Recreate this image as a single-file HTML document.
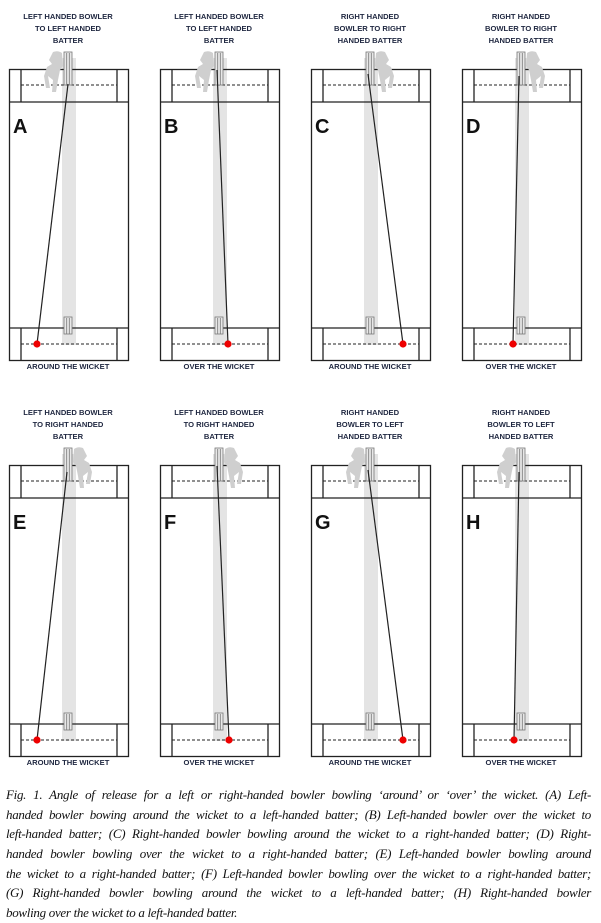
<!DOCTYPE html>
<html><head><meta charset="utf-8"><style>
html,body{margin:0;padding:0;background:#fff;width:601px;height:923px;overflow:hidden}
svg{position:absolute;left:0;top:0}
.t{font-family:"Liberation Sans",sans-serif;font-weight:bold;font-size:7.6px;fill:#1f2740;text-anchor:middle}
.L{font-family:"Liberation Sans",sans-serif;font-weight:bold;font-size:20px;fill:#111}
.cap{position:absolute;left:6px;top:785px;width:585px;font-family:"Liberation Serif",serif;font-style:italic;font-size:13px;line-height:19.7px;color:#111;letter-spacing:-0.3px}
.cap div{text-align:justify;text-align-last:justify;white-space:nowrap;height:19.7px}
.cap div.last{text-align-last:left}
</style></head><body>
<svg width="601" height="780" viewBox="0 0 601 780">
<defs>
<g id="frame">
<rect x="62" y="58" width="14" height="287" fill="#e4e4e4"/>
<rect x="9.5" y="69.5" width="119" height="291" fill="none" stroke="#222" stroke-width="1.3"/>
<line x1="9" y1="102" x2="129" y2="102" stroke="#222" stroke-width="1.3"/>
<line x1="9" y1="328" x2="129" y2="328" stroke="#222" stroke-width="1.3"/>
<line x1="21" y1="70" x2="21" y2="102" stroke="#222" stroke-width="1.3"/>
<line x1="117" y1="70" x2="117" y2="102" stroke="#222" stroke-width="1.3"/>
<line x1="21" y1="328" x2="21" y2="360" stroke="#222" stroke-width="1.3"/>
<line x1="117" y1="328" x2="117" y2="360" stroke="#222" stroke-width="1.3"/>
<line x1="21" y1="85" x2="117" y2="85" stroke="#222" stroke-width="1" stroke-dasharray="3,2"/>
<line x1="21" y1="344" x2="117" y2="344" stroke="#222" stroke-width="1" stroke-dasharray="3,2"/>
<rect x="64" y="52" width="8" height="33" fill="#e8e8e8" stroke="#777" stroke-width="0.8"/>
<line x1="66.7" y1="53" x2="66.7" y2="85" stroke="#777" stroke-width="0.8"/>
<line x1="69.3" y1="53" x2="69.3" y2="85" stroke="#777" stroke-width="0.8"/>
<rect x="64" y="317" width="8" height="17" fill="#e8e8e8" stroke="#777" stroke-width="0.8"/>
<line x1="66.7" y1="318" x2="66.7" y2="334" stroke="#777" stroke-width="0.8"/>
<line x1="69.3" y1="318" x2="69.3" y2="334" stroke="#777" stroke-width="0.8"/>
</g>
<path id="batL" d="M53,52 Q58,50 62,53 L63,66 L60,70 L58,80 L56,92 L52,92 L53,80 L48,76 L50,88 L46,88 L44,76 L47,67 L52,64 L49,60 Z" fill="#cfcfcf"/>
<path id="batR" d="M83,52 Q78,50 74,53 L73,66 L76,70 L78,80 L80,92 L84,92 L83,80 L88,76 L86,88 L90,88 L92,76 L89,67 L84,64 L87,60 Z" fill="#cfcfcf"/>
</defs>

<g>
<use href="#frame"/><use href="#batL"/>
<line x1="68" y1="84" x2="37" y2="344" stroke="#222" stroke-width="1.2"/>
<circle cx="37" cy="344" r="3.6" fill="#e00"/>
<text class="L" x="13" y="133">A</text>
<text class="t" x="68" y="19">LEFT HANDED BOWLER</text><text class="t" x="68" y="31">TO LEFT HANDED</text><text class="t" x="68" y="43">BATTER</text>
<text class="t" x="68" y="369">AROUND THE WICKET</text>
</g>
<g transform="translate(151,0)">
<use href="#frame"/><use href="#batL"/>
<line x1="66" y1="70" x2="77" y2="344" stroke="#222" stroke-width="1.2"/>
<circle cx="77" cy="344" r="3.6" fill="#e00"/>
<text class="L" x="13" y="133">B</text>
<text class="t" x="68" y="19">LEFT HANDED BOWLER</text><text class="t" x="68" y="31">TO LEFT HANDED</text><text class="t" x="68" y="43">BATTER</text>
<text class="t" x="68" y="369">OVER THE WICKET</text>
</g>
<g transform="translate(302,0)">
<use href="#frame"/><use href="#batR"/>
<line x1="66" y1="74" x2="101" y2="344" stroke="#222" stroke-width="1.2"/>
<circle cx="101" cy="344" r="3.6" fill="#e00"/>
<text class="L" x="13" y="133">C</text>
<text class="t" x="68" y="19">RIGHT HANDED</text><text class="t" x="68" y="31">BOWLER TO RIGHT</text><text class="t" x="68" y="43">HANDED BATTER</text>
<text class="t" x="68" y="369">AROUND THE WICKET</text>
</g>
<g transform="translate(453,0)">
<use href="#frame"/><use href="#batR"/>
<line x1="66" y1="76" x2="60" y2="344" stroke="#222" stroke-width="1.2"/>
<circle cx="60" cy="344" r="3.6" fill="#e00"/>
<text class="L" x="13" y="133">D</text>
<text class="t" x="68" y="19">RIGHT HANDED</text><text class="t" x="68" y="31">BOWLER TO RIGHT</text><text class="t" x="68" y="43">HANDED BATTER</text>
<text class="t" x="68" y="369">OVER THE WICKET</text>
</g>

<g transform="translate(0,396)">
<use href="#frame"/><use href="#batR"/>
<line x1="67" y1="76" x2="37" y2="344" stroke="#222" stroke-width="1.2"/>
<circle cx="37" cy="344" r="3.6" fill="#e00"/>
<text class="L" x="13" y="133">E</text>
<text class="t" x="68" y="19">LEFT HANDED BOWLER</text><text class="t" x="68" y="31">TO RIGHT HANDED</text><text class="t" x="68" y="43">BATTER</text>
<text class="t" x="68" y="369">AROUND THE WICKET</text>
</g>
<g transform="translate(151,396)">
<use href="#frame"/><use href="#batR"/>
<line x1="66" y1="70" x2="78" y2="344" stroke="#222" stroke-width="1.2"/>
<circle cx="78" cy="344" r="3.6" fill="#e00"/>
<text class="L" x="13" y="133">F</text>
<text class="t" x="68" y="19">LEFT HANDED BOWLER</text><text class="t" x="68" y="31">TO RIGHT HANDED</text><text class="t" x="68" y="43">BATTER</text>
<text class="t" x="68" y="369">OVER THE WICKET</text>
</g>
<g transform="translate(302,396)">
<use href="#frame"/><use href="#batL"/>
<line x1="66" y1="74" x2="101" y2="344" stroke="#222" stroke-width="1.2"/>
<circle cx="101" cy="344" r="3.6" fill="#e00"/>
<text class="L" x="13" y="133">G</text>
<text class="t" x="68" y="19">RIGHT HANDED</text><text class="t" x="68" y="31">BOWLER TO LEFT</text><text class="t" x="68" y="43">HANDED BATTER</text>
<text class="t" x="68" y="369">AROUND THE WICKET</text>
</g>
<g transform="translate(453,396)">
<use href="#frame"/><use href="#batL"/>
<line x1="66" y1="76" x2="61" y2="344" stroke="#222" stroke-width="1.2"/>
<circle cx="61" cy="344" r="3.6" fill="#e00"/>
<text class="L" x="13" y="133">H</text>
<text class="t" x="68" y="19">RIGHT HANDED</text><text class="t" x="68" y="31">BOWLER TO LEFT</text><text class="t" x="68" y="43">HANDED BATTER</text>
<text class="t" x="68" y="369">OVER THE WICKET</text>
</g>
</svg>
<div class="cap">
<div>Fig. 1. Angle of release for a left or right-handed bowler bowling ‘around’ or ‘over’ the wicket. (A) Left-</div>
<div>handed bowler bowing around the wicket to a left-handed batter; (B) Left-handed bowler over the wicket to</div>
<div>left-handed batter; (C) Right-handed bowler bowling around the wicket to a right-handed batter; (D) Right-</div>
<div>handed bowler bowling over the wicket to a right-handed batter; (E) Left-handed bowler bowling around</div>
<div>the wicket to a right-handed batter; (F) Left-handed bowler bowling over the wicket to a right-handed batter;</div>
<div>(G) Right-handed bowler bowling around the wicket to a left-handed batter; (H) Right-handed bowler</div>
<div class="last">bowling over the wicket to a left-handed batter.</div>
</div>
</body></html>
